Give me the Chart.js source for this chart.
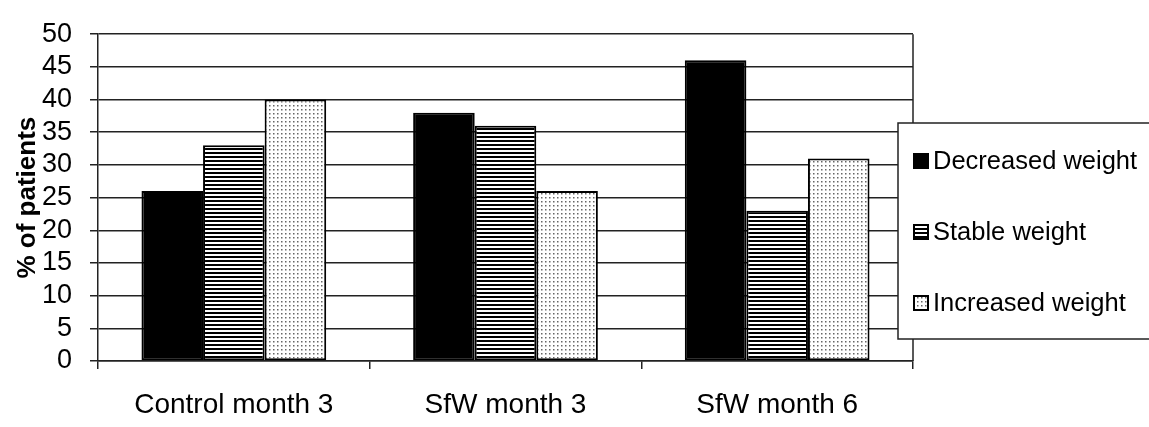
<!DOCTYPE html>
<html>
<head>
<meta charset="utf-8">
<script src="https://cdn.jsdelivr.net/npm/chart.js@4"></script>
<style>
  html, body { margin: 0; padding: 0; background: #fff; }
  #wrap { width: 1149px; height: 427px; }
</style>
</head>
<body>
<div id="wrap"><canvas id="chart" width="1149" height="427"></canvas></div>
<script>
const categories = ['Control month 3', 'SfW month 3', 'SfW month 6'];
const decreased = [26, 38, 46];
const stable = [33, 36, 23];
const increased = [40, 26, 31];
const seriesNames = ['Decreased weight', 'Stable weight', 'Increased weight'];

const FONT = '"Liberation Sans", Arial, sans-serif';
const LINE = '#222';

function stripePattern() {
  const c = document.createElement('canvas');
  c.width = 4; c.height = 4;
  const g = c.getContext('2d');
  g.fillStyle = '#fff';
  g.fillRect(0, 0, 4, 4);
  g.fillStyle = '#000';
  g.fillRect(0, 0, 4, 2);
  return g.createPattern(c, 'repeat');
}

function dotPattern() {
  const c = document.createElement('canvas');
  c.width = 4; c.height = 4;
  const g = c.getContext('2d');
  g.fillStyle = '#fff';
  g.fillRect(0, 0, 4, 4);
  g.fillStyle = '#666';
  g.fillRect(1, 1, 1.5, 1.5);
  return g.createPattern(c, 'repeat');
}

const fills = ['#000', stripePattern(), dotPattern()];

// right border of the plot + boxed legend on top of the plot
const boxLegend = {
  id: 'boxLegend',
  afterDraw(chart) {
    const ctx = chart.ctx;
    const a = chart.chartArea;
    ctx.save();
    ctx.strokeStyle = LINE;
    ctx.lineWidth = 1.5;
    ctx.beginPath();
    ctx.moveTo(a.right, a.top);
    ctx.lineTo(a.right, a.bottom);
    ctx.stroke();

    const bx = a.right - 15, by = 123, bw = 270, bh = 216;
    ctx.fillStyle = '#fff';
    ctx.fillRect(bx, by, bw, bh);
    ctx.strokeRect(bx, by, bw, bh);

    ctx.font = '25.5px ' + FONT;
    ctx.textBaseline = 'middle';
    chart.data.datasets.forEach((ds, i) => {
      const cy = 161 + i * 71;
      ctx.fillStyle = ds.backgroundColor;
      ctx.fillRect(bx + 16, cy - 7, 14, 14);
      ctx.lineWidth = 2;
      ctx.strokeStyle = '#000';
      ctx.strokeRect(bx + 16, cy - 7, 14, 14);
      ctx.fillStyle = '#000';
      ctx.fillText(ds.label, bx + 35, cy + 1);
    });
    ctx.restore();
  }
};

const datasets = [decreased, stable, increased].map((vals, i) => ({
  label: seriesNames[i],
  data: vals,
  backgroundColor: fills[i],
  borderColor: '#000',
  borderWidth: 2,
  borderSkipped: false,
  barPercentage: 1,
  categoryPercentage: 0.68
}));

new Chart(document.getElementById('chart'), {
  type: 'bar',
  data: { labels: categories, datasets: datasets },
  options: {
    responsive: false,
    animation: false,
    layout: { padding: { top: 25, right: 236, left: 0, bottom: 0 } },
    plugins: { legend: { display: false }, tooltip: { enabled: false } },
    scales: {
      x: {
        afterFit(s) { s.height = 66; },
        grid: { offset: true, drawOnChartArea: false, color: LINE, lineWidth: 1.5, tickLength: 8 },
        border: { color: LINE, width: 1.5 },
        ticks: { color: '#000', font: { family: FONT, size: 28 }, padding: 19, autoSkip: false, maxRotation: 0 }
      },
      y: {
        min: 0,
        max: 50,
        afterFit(s) { s.width = 98; },
        ticks: { stepSize: 5, autoSkip: false, color: '#000', font: { family: FONT, size: 27 }, padding: 18 },
        grid: { color: LINE, lineWidth: 1.5, tickLength: 8 },
        border: { color: LINE, width: 1.5 },
        title: {
          display: true,
          text: '% of patients',
          color: '#000',
          font: { family: FONT, size: 26, weight: 'bold' },
          padding: { top: 12, bottom: 0 }
        }
      }
    }
  },
  plugins: [boxLegend]
});
</script>
</body>
</html>
